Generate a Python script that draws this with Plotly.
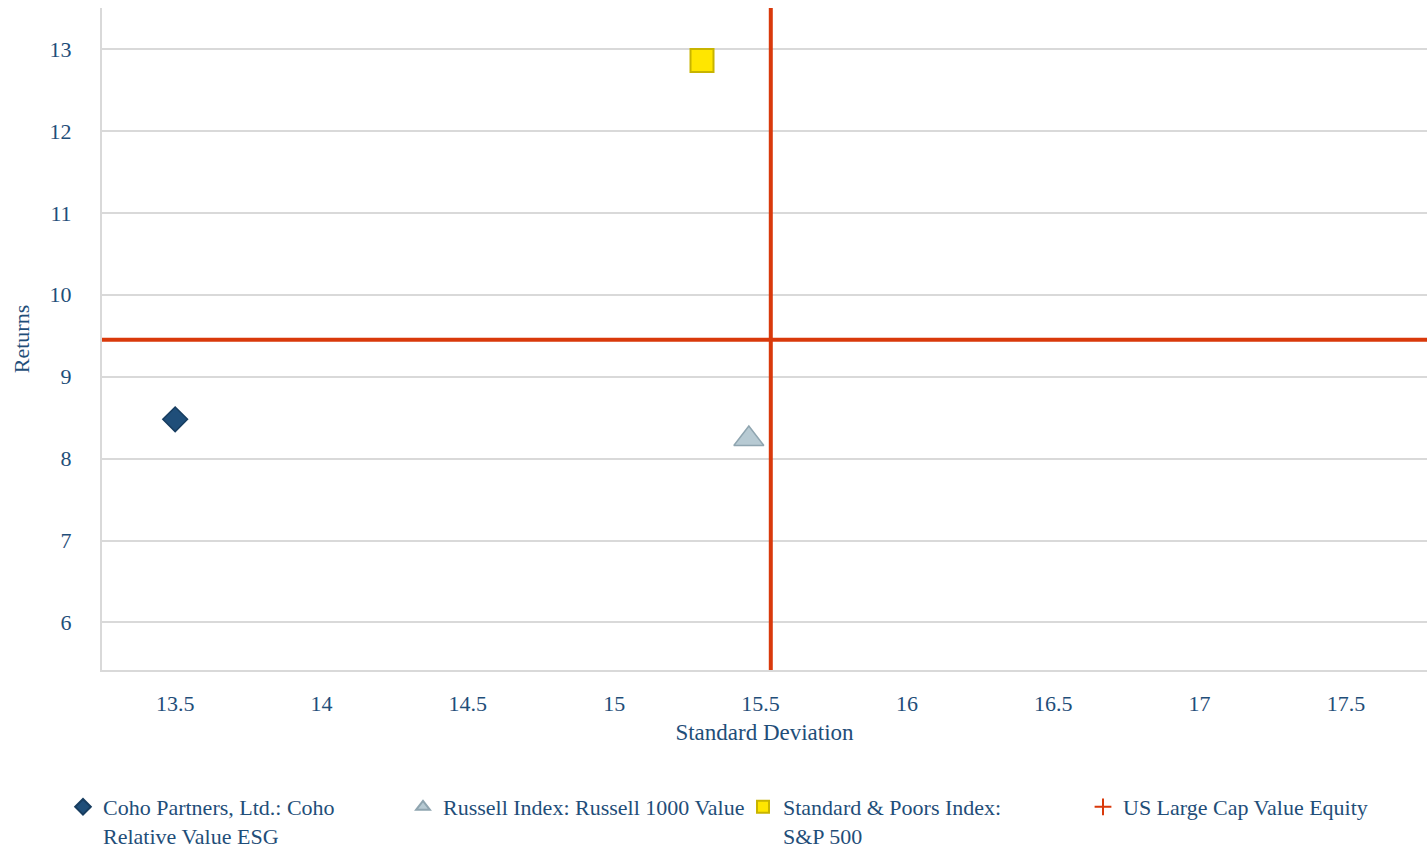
import plotly.graph_objects as go

# Risk / return data
names = [
    "Coho Partners, Ltd.: Coho<br>Relative Value ESG",
    "Russell Index: Russell 1000 Value",
    "Standard & Poors Index:<br>S&P 500",
]
std_dev = [13.50, 15.46, 15.30]
returns = [8.48, 8.24, 12.86]

# Universe median (crosshair)
universe_name = "US Large Cap Value Equity"
universe_std = 15.535
universe_ret = 9.45

x_ticks = [13.5, 14, 14.5, 15, 15.5, 16, 16.5, 17, 17.5]
x_tick_text = ["13.5", "14", "14.5", "15", "15.5", "16", "16.5", "17", "17.5"]
y_ticks = [6, 7, 8, 9, 10, 11, 12, 13]

TXT = "#1f4e79"
RED = "#d9390b"
FONT = "Liberation Serif"
FS = 22

styles = [
    dict(symbol="diamond", size=19, color="#1f4e79", line=dict(color="#173d60", width=1.5)),
    dict(symbol="triangle-up", size=26, color="#b7cad3", line=dict(color="#8fa5b0", width=1.5)),
    dict(symbol="square", size=23, color="#ffe600", line=dict(color="#c8b400", width=2)),
]

fig = go.Figure()

for name, x, y, st in zip(names, std_dev, returns, styles):
    fig.add_trace(go.Scatter(
        x=[x], y=[y], mode="markers", name=name, marker=st,
        hoverinfo="x+y+name",
    ))

fig.add_trace(go.Scatter(
    x=[universe_std], y=[universe_ret], mode="markers", name=universe_name,
    marker=dict(symbol="cross-thin-open", size=16, color=RED, line=dict(color=RED, width=2)),
))

# Crosshair lines through the universe median
fig.add_shape(type="line", xref="x", yref="paper", x0=universe_std, x1=universe_std,
              y0=0, y1=1, line=dict(color=RED, width=4), layer="above")
fig.add_shape(type="line", xref="paper", yref="y", x0=0, x1=1,
              y0=universe_ret, y1=universe_ret, line=dict(color=RED, width=4), layer="above")

PLOT_L, PLOT_T, PLOT_B = 102, 8, 670
PLOT_W, PLOT_H = 1427 - PLOT_L, PLOT_B - PLOT_T

fig.update_layout(
    width=1427, height=848,
    margin=dict(l=PLOT_L, r=0, t=PLOT_T, b=848 - PLOT_B, autoexpand=False),
    paper_bgcolor="white", plot_bgcolor="white",
    font=dict(family=FONT, size=FS, color=TXT),
    showlegend=True,
    legend=dict(
        orientation="h", xref="paper", yref="paper",
        x=(63 - PLOT_L) / PLOT_W, y=(PLOT_B - 786) / PLOT_H,
        xanchor="left", yanchor="top",
        entrywidth=295, entrywidthmode="pixels", valign="top",
        font=dict(family=FONT, size=22, color=TXT), itemsizing="constant",
        tracegroupgap=0,
    ),
    xaxis=dict(
        range=[13.25, 17.777], tickvals=x_ticks, ticktext=x_tick_text,
        showgrid=False, zeroline=False, showline=True, linecolor="#d9d9d9", linewidth=2,
        ticks="", ticklabelstandoff=13,
        title=dict(text="Standard Deviation", standoff=8, font=dict(size=23, color=TXT)),
    ),
    yaxis=dict(
        range=[5.42, 13.5], tickvals=y_ticks,
        showgrid=True, gridcolor="#d9d9d9", gridwidth=1.5, zeroline=False,
        showline=True, linecolor="#d9d9d9", linewidth=2,
        ticks="", ticklabelstandoff=24,
        title=dict(text="Returns", standoff=14, font=dict(size=FS, color=TXT)),
    ),
)

fig.write_html("out.html")
